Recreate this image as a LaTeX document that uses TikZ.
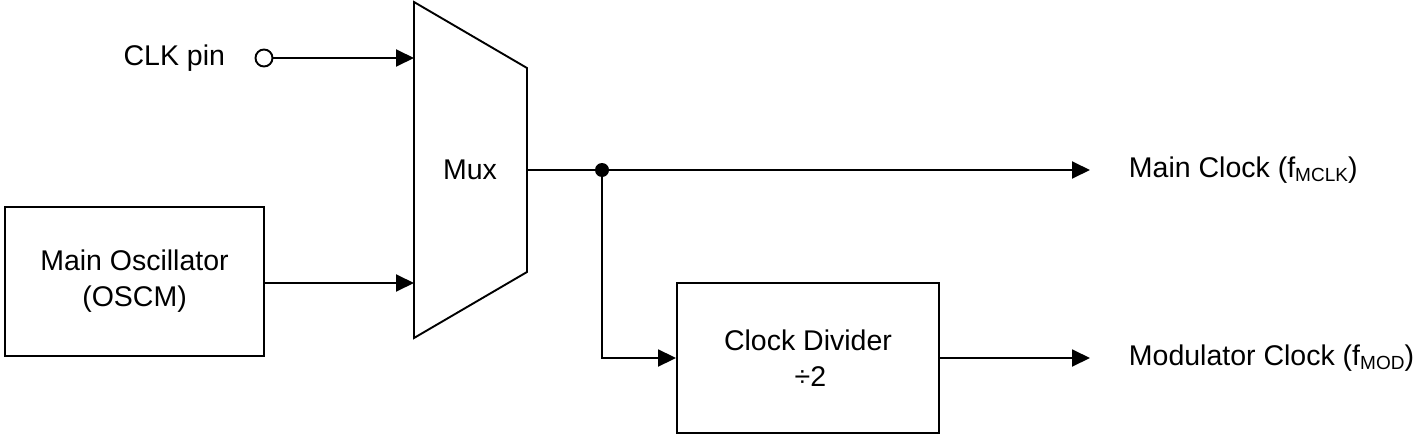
\documentclass[tikz,border=0pt]{standalone}
\usepackage{fontspec}
\setmainfont{Liberation Sans}
\usetikzlibrary{arrows.meta}
\newcommand{\subt}[1]{\raisebox{-4.5pt}{\fontsize{19}{19}\selectfont #1}}
\begin{document}
\begin{tikzpicture}[x=1pt,y=-1pt,
  line width=1.9pt,
  lbl/.style={font=\fontsize{28.5}{35}\selectfont, inner sep=0pt},
  blk/.style={draw, line width=1.9pt, align=center, font=\fontsize{28.5}{36}\selectfont},
  arr/.style={-{Triangle[length=18pt,width=17pt]}},
  pin/.style={circle, draw, fill=white, line width=1.9pt, minimum size=17pt, inner sep=0pt},
  junc/.style={circle, fill=black, minimum size=14pt, inner sep=0pt}]
\useasboundingbox (0,0) rectangle (1417,434);
% mux
\draw[line join=miter] (414,2) -- (527,68) -- (527,272) -- (414,338) -- cycle;
\node[lbl] (mux) at (470,170) {Mux};
\coordinate (muxin1) at (414,58);
\coordinate (muxin2) at (414,283);
\coordinate (muxout) at (527,170);
% CLK pin
\node[pin] (clkpin) at (264,58) {};
\node[lbl, anchor=east] (clklbl) at (226,58) {CLK pin};
\draw[arr] (clkpin.east) -- (muxin1);
% Main oscillator
\node[blk, minimum width=259pt, minimum height=149pt] (osc) at (134.5,281.5) {Main Oscillator\\(OSCM)};
\draw[arr] (osc.east |- muxin2) -- (muxin2);
% junction and main clock
\node[junc] (dot) at (602,170) {};
\coordinate (mclkend) at (1090,170);
\node[lbl, anchor=west] (mclk) at (1128,170) {Main Clock (f\subt{MCLK})};
\draw (muxout) -- (dot.center);
\draw[arr] (dot.center) -- (mclkend);
% clock divider
\node[blk, minimum width=262pt, minimum height=150pt] (div) at (808,358) {Clock Divider\\\,÷2};
\draw[arr] (dot.center) |- (div.west);
\coordinate (modend) at (1090,358);
\node[lbl, anchor=west] (mod) at (1128,358) {Modulator Clock (f\subt{MOD})};
\draw[arr] (div.east) -- (modend);
\end{tikzpicture}
\end{document}
